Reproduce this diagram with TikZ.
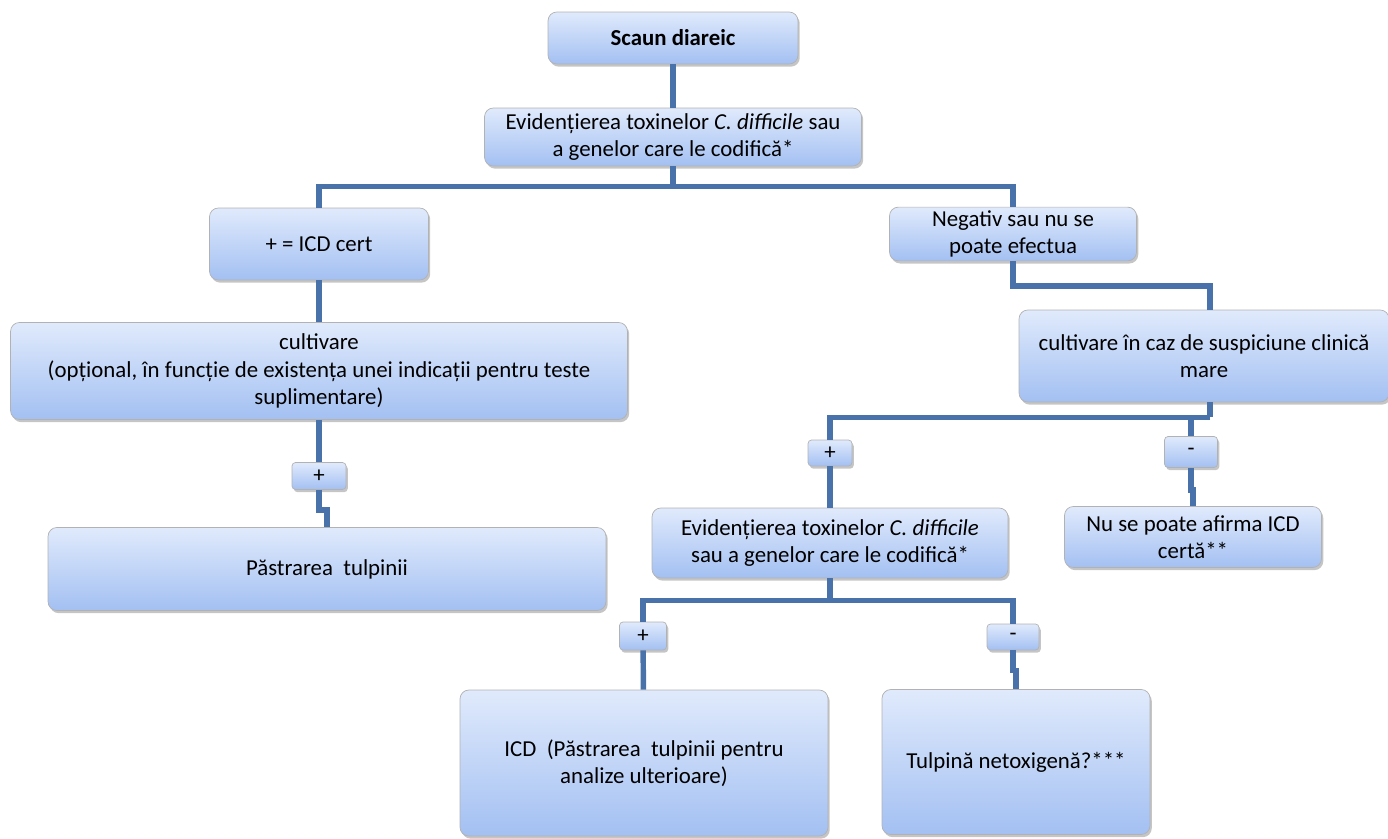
\documentclass[tikz,border=0pt]{standalone}
\usepackage{fontspec}
\setmainfont{Carlito}
\usetikzlibrary{positioning,calc,shadows}
\definecolor{linkblue}{RGB}{74,114,170}
\definecolor{boxtop}{RGB}{224,234,252}
\definecolor{boxbot}{RGB}{163,192,242}
\begin{document}
\begin{tikzpicture}[
    x={(0.02cm,0)}, y={(0,-0.02cm)},
    box/.style={rectangle, draw=gray!60, rounded corners=5pt, top color=boxtop, bottom color=boxbot, align=center, inner sep=2pt, font=\fontsize{13}{15.5}\selectfont, drop shadow={shadow xshift=1pt, shadow yshift=-1.5pt, fill=black!45, opacity=.5}},
    sign/.style={box, rounded corners=2pt, minimum width=1cm, minimum height=0.54cm},
    link/.style={draw=linkblue, line width=3.1pt}
]
\useasboundingbox (0,0) rectangle (1388,838);

% Top
\node[box, minimum width=5cm, minimum height=1.04cm, font=\fontsize{13}{15.5}\selectfont\bfseries] (scaun) at (673,38) {Scaun diareic};
\node[box, minimum width=7.54cm, minimum height=1.16cm] (evid1) at (673,137) {Evidențierea toxinelor \textit{C. difficile} sau\\a genelor care le codifică*};

% Left branch
\node[box, minimum width=4.38cm, minimum height=1.44cm] (icd) at (319,244) {+ = ICD cert};
\node[box, minimum width=12.34cm, minimum height=1.94cm] (cult1) at (319,371) {cultivare\\(opțional, în funcție de existența unei indicații pentru teste\\suplimentare)};
\node[sign, minimum width=1.08cm] (plus1) at (319,476) {+};
\node[box, minimum width=11.16cm, minimum height=1.66cm] (past) at (327,569) {Păstrarea\ \ tulpinii};

% Right branch
\node[box, minimum width=4.94cm, minimum height=1.04cm] (neg) at (1013,234) {Negativ sau nu se\\poate efectua};
\node[box, minimum width=7.4cm, minimum height=1.84cm] (cult2) at (1204,356) {cultivare în caz de suspiciune clinică\\mare};
\node[sign, minimum width=0.88cm, minimum height=0.52cm] (plus2) at (830,453) {+};
\node[sign, minimum width=1.06cm, minimum height=0.62cm] (minus1) at (1191,452) {-};
\node[box, minimum width=7.12cm, minimum height=1.4cm] (evid2) at (830,543) {Evidențierea toxinelor \textit{C. difficile}\\sau a genelor care le codifică*};
\node[box, minimum width=5.14cm, minimum height=1.22cm] (nuse) at (1193,537) {Nu se poate afirma ICD\\certă**};

% Last level
\node[sign, minimum width=0.94cm, minimum height=0.56cm] (plus3) at (643,636) {+};
\node[sign, minimum width=1.04cm, minimum height=0.52cm] (minus2) at (1013,637) {-};
\node[box, minimum width=7.36cm, minimum height=2.92cm] (icdp) at (644,763) {ICD\ \ (Păstrarea\ \ tulpinii pentru\\analize ulterioare)};
\node[box, minimum width=5.36cm, minimum height=2.9cm] (tulp) at (1016,762) {Tulpină netoxigenă?***};

% Links
\draw[link] (scaun) -- (evid1);
\draw[link] (evid1.south) -- ++(0,20) coordinate (bus1);
\draw[link] (bus1) -| (icd.north);
\draw[link] (bus1) -| (neg.north);
\draw[link] (icd) -- (cult1);
\draw[link] (cult1) -- (plus1);
\draw[link] (plus1.south) -- ++(0,20) -| (past.north);
\draw[link] (neg.south) -- ++(0,25) -| ($(cult2.north)+(6,0)$);
\draw[link] ($(cult2.south)+(6,0)$) -- ++(0,15) coordinate (bus2);
\draw[link] (bus2) -| (plus2.north);
\draw[link] (bus2) -| (minus1.north);
\draw[link] (plus2) -- (evid2);
\draw[link] (minus1.south) -- ++(0,22) -| (nuse.north);
\draw[link] (evid2.south) -- ++(0,22) coordinate (bus3);
\draw[link] (bus3) -| (plus3.north);
\draw[link] (bus3) -| (minus2.north);
\draw[link] (plus3) -- (icdp);
\draw[link] (minus2.south) -- ++(0,20) -| (tulp.north);

\end{tikzpicture}
\end{document}
